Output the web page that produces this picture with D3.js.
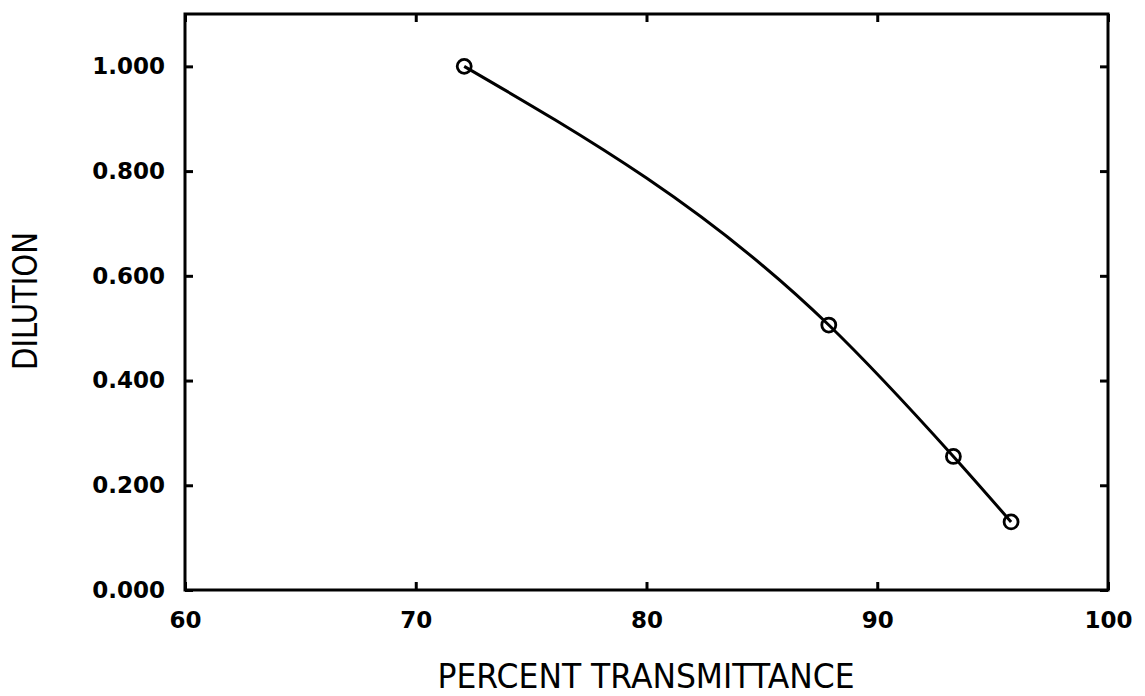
<!DOCTYPE html>
<html>
<head>
<meta charset="utf-8">
<script src="https://cdn.jsdelivr.net/npm/d3@7"></script>
<style>
  body { margin: 0; background: #fff; }
  svg { display: block; }
</style>
</head>
<body>
<svg id="chart"></svg>
<script>
// data
const transmittance = [72.1, 87.9, 93.3, 95.8];
const dilution = [1.000, 0.506, 0.255, 0.130];
const xTicks = [60, 70, 80, 90, 100];
const yTicks = [0, 0.2, 0.4, 0.6, 0.8, 1.0];

const W = 1145, H = 696;
const margin = { top: 14, right: 37, bottom: 106, left: 185 };
const width = W - margin.left - margin.right;
const height = H - margin.top - margin.bottom;

const svg = d3.select('#chart').attr('width', W).attr('height', H);
const g = svg.append('g').attr('transform', `translate(${margin.left},${margin.top})`);

//scales
const x = d3.scaleLinear().domain([60, 100]).range([0, width]);
const y = d3.scaleLinear().domain([0, 1.1]).range([height, 0]);

const tickFont = (sel) => sel.selectAll('text')
  .style('font-family', 'DejaVu Sans')
  .style('font-weight', 'bold')
  .style('font-size', '23px')
  .attr('fill', '#000');

//axes, ticks point inward on every side
const xAxis = g.append('g').attr('transform', `translate(0,${height})`)
  .call(d3.axisBottom(x).tickValues(xTicks).tickSizeInner(-8).tickSizeOuter(0).tickPadding(22));
const yAxis = g.append('g')
  .call(d3.axisLeft(y).tickValues(yTicks).tickFormat(d3.format('.3f')).tickSizeInner(-8).tickSizeOuter(0).tickPadding(20));
const topAxis = g.append('g')
  .call(d3.axisTop(x).tickValues(xTicks).tickFormat('').tickSizeInner(-8).tickSizeOuter(0));
const rightAxis = g.append('g').attr('transform', `translate(${width},0)`)
  .call(d3.axisRight(y).tickValues(yTicks).tickFormat('').tickSizeInner(-8).tickSizeOuter(0));

[xAxis, yAxis, topAxis, rightAxis].forEach(a => {
  a.select('.domain').remove();
  a.selectAll('line').attr('stroke', '#000').attr('stroke-width', 3);
  tickFont(a);
});

//frame
g.append('rect')
  .attr('width', width).attr('height', height)
  .attr('fill', 'none').attr('stroke', '#000').attr('stroke-width', 3);

//curve through the points
const pts = transmittance.map((t, i) => [t, dilution[i]]);
const line = d3.line().x(d => x(d[0])).y(d => y(d[1])).curve(d3.curveMonotoneX);
g.append('path').datum(pts)
  .attr('d', line)
  .attr('fill', 'none').attr('stroke', '#000').attr('stroke-width', 3);

g.selectAll('circle').data(pts).enter().append('circle')
  .attr('cx', d => x(d[0])).attr('cy', d => y(d[1]))
  .attr('r', 7)
  .attr('fill', 'none').attr('stroke', '#000').attr('stroke-width', 2.8);

//axis titles
svg.append('text')
  .attr('x', 646).attr('y', 688)
  .attr('text-anchor', 'middle')
  .attr('textLength', 417).attr('lengthAdjust', 'spacingAndGlyphs')
  .style('font-family', 'DejaVu Sans').style('font-size', '34px')
  .text('PERCENT TRANSMITTANCE');

svg.append('text')
  .attr('transform', 'translate(37,301) rotate(-90)')
  .attr('text-anchor', 'middle')
  .attr('textLength', 138).attr('lengthAdjust', 'spacingAndGlyphs')
  .style('font-family', 'DejaVu Sans').style('font-size', '34px')
  .text('DILUTION');
</script>
</body>
</html>
